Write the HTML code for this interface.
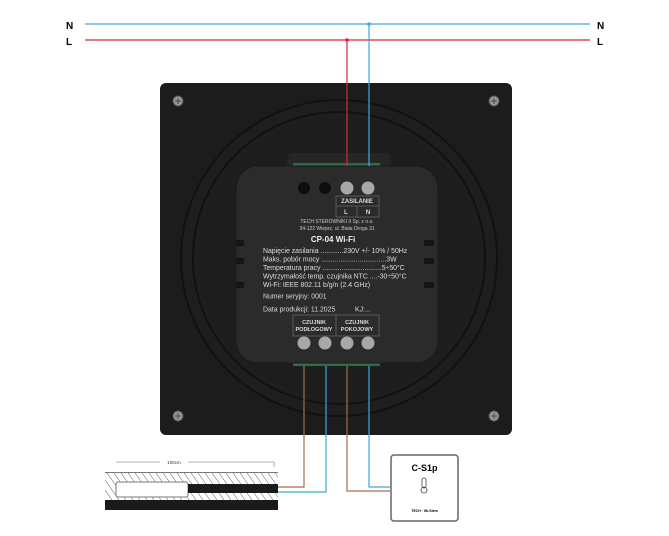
<!DOCTYPE html>
<html><head><meta charset="utf-8"><style>
html,body{margin:0;padding:0;background:#fff;}
svg{display:block;font-family:"Liberation Sans",sans-serif;}
</style></head><body>
<svg width="669" height="536" viewBox="0 0 669 536">
<defs>
<pattern id="h" width="7" height="10" patternUnits="userSpaceOnUse"><line x1="0" y1="0" x2="7" y2="10" stroke="#777" stroke-width="0.6"/></pattern>
</defs>
<line x1="85" y1="24" x2="590" y2="24" stroke="#3aa8e0" stroke-width="1.2"/>
<line x1="85" y1="40" x2="590" y2="40" stroke="#d8283a" stroke-width="1.2"/>
<text x="66" y="29" font-size="10" font-weight="bold">N</text>
<text x="66" y="45" font-size="10" font-weight="bold">L</text>
<text x="597" y="29" font-size="10" font-weight="bold">N</text>
<text x="597" y="45" font-size="10" font-weight="bold">L</text>
<circle cx="347" cy="40" r="1.8" fill="#d8283a"/>
<circle cx="369" cy="24" r="1.8" fill="#3aa8e0"/>
<rect x="160" y="83" width="352" height="352" rx="6" fill="#1c1c1c"/>
<circle cx="339" cy="258" r="158" fill="#1e1e1e" stroke="#111" stroke-width="2"/>
<circle cx="339" cy="258" r="146" fill="none" stroke="#111" stroke-width="2"/>
<circle cx="339" cy="258" r="140" fill="#1d1d1d"/>
<g fill="#999" stroke="#555" stroke-width="1">
<circle cx="178" cy="101" r="5"/><circle cx="494" cy="101" r="5"/>
<circle cx="178" cy="416" r="5"/><circle cx="494" cy="416" r="5"/>
</g>
<g stroke="#444" stroke-width="1"><line x1="175" y1="101" x2="181" y2="101"/><line x1="178" y1="98" x2="178" y2="104"/><line x1="491" y1="101" x2="497" y2="101"/><line x1="494" y1="98" x2="494" y2="104"/><line x1="175" y1="416" x2="181" y2="416"/><line x1="178" y1="413" x2="178" y2="419"/><line x1="491" y1="416" x2="497" y2="416"/><line x1="494" y1="413" x2="494" y2="419"/></g>
<rect x="287" y="153" width="104" height="20" rx="6" fill="#262626"/>
<rect x="293" y="163" width="87" height="3" fill="#2f6b44"/>
<rect x="293" y="363" width="87" height="3" fill="#2f6b44"/>
<rect x="236" y="166" width="202" height="197" rx="22" fill="#2b2b2b" stroke="#1a1a1a"/>
<g fill="#151515"><rect x="236" y="240" width="8" height="6"/><rect x="236" y="258" width="8" height="6"/><rect x="236" y="282" width="8" height="6"/><rect x="424" y="240" width="10" height="6"/><rect x="424" y="258" width="10" height="6"/><rect x="424" y="282" width="10" height="6"/></g>
<line x1="347" y1="40" x2="347" y2="166" stroke="#d8283a" stroke-width="1.2"/>
<line x1="369" y1="24" x2="369" y2="166" stroke="#3aa8e0" stroke-width="1.2"/>
<circle cx="304" cy="188" r="6" fill="#0d0d0d"/><circle cx="325" cy="188" r="6" fill="#0d0d0d"/>
<circle cx="347" cy="188" r="6.5" fill="#a8a8a8"/><circle cx="368" cy="188" r="6.5" fill="#a8a8a8"/>
<rect x="336" y="196" width="43" height="21" fill="none" stroke="#666" stroke-width="0.8"/>
<line x1="336" y1="206" x2="379" y2="206" stroke="#666" stroke-width="0.8"/>
<line x1="357" y1="206" x2="357" y2="217" stroke="#666" stroke-width="0.8"/>
<g fill="#ddd" font-size="6" font-weight="bold" text-anchor="middle"><text x="357" y="203">ZASILANIE</text><text x="346" y="214">L</text><text x="368" y="214">N</text></g>
<g fill="#ccc" font-size="5" text-anchor="middle"><text x="337" y="223">TECH STEROWNIKI II Sp. z o.o.</text><text x="337" y="230">34-122 Wieprz, ul. Biała Droga 31</text></g>
<text x="333" y="242" fill="#eee" font-size="8" font-weight="bold" text-anchor="middle">CP-04 Wi-Fi</text>
<g fill="#ddd" font-size="6.9">
<text x="263" y="253">Napięcie zasilania ............230V +/- 10% / 50Hz</text>
<text x="263" y="261.5">Maks. pobór mocy ..................................3W</text>
<text x="263" y="270">Temperatura pracy ...............................5÷50°C</text>
<text x="263" y="278.5">Wytrzymałość temp. czujnika NTC ....-30÷50°C</text>
<text x="263" y="287">Wi-Fi: IEEE 802.11 b/g/n (2.4 GHz)</text>
<text x="263" y="298.5">Numer seryjny: 0001</text>
<text x="263" y="311.5">Data produkcji: 11.2025</text>
<text x="355" y="311.5">KJ:...</text>
</g>
<rect x="293" y="315" width="86" height="21" fill="none" stroke="#666" stroke-width="0.8"/>
<line x1="336" y1="315" x2="336" y2="336" stroke="#666" stroke-width="0.8"/>
<g fill="#ddd" font-size="5.5" font-weight="bold" text-anchor="middle"><text x="314" y="324">CZUJNIK</text><text x="314" y="331">PODŁOGOWY</text><text x="357" y="324">CZUJNIK</text><text x="357" y="331">POKOJOWY</text></g>
<g fill="#a8a8a8"><circle cx="304" cy="343" r="6.5"/><circle cx="325" cy="343" r="6.5"/><circle cx="347" cy="343" r="6.5"/><circle cx="368" cy="343" r="6.5"/></g>
<g fill="none" stroke-width="1.2">
<polyline points="304,366 304,487 278,487" stroke="#a0704a"/>
<polyline points="326,366 326,492 278,492" stroke="#3aa8e0"/>
<polyline points="347,366 347,491 390,491" stroke="#a0704a"/>
<polyline points="369,366 369,487 390,487" stroke="#3aa8e0"/>
</g>
<line x1="116" y1="462" x2="274" y2="462" stroke="#999" stroke-width="0.8"/>
<line x1="274" y1="462" x2="274" y2="467" stroke="#999" stroke-width="0.8"/>
<rect x="160" y="459" width="28" height="6" fill="#fff"/>
<text x="174" y="464" font-size="4.5" text-anchor="middle" fill="#333">100cm</text>
<rect x="105" y="473" width="173" height="27" fill="url(#h)"/>
<line x1="105" y1="472.5" x2="278" y2="472.5" stroke="#777"/>
<rect x="116" y="482" width="72" height="15" rx="2" fill="#fff" stroke="#777"/>
<rect x="188" y="484" width="90" height="9" fill="#1a1a1a"/>
<rect x="105" y="500" width="173" height="10" fill="#1a1a1a"/>
<rect x="391" y="455" width="67" height="66" rx="3" fill="#fff" stroke="#666" stroke-width="1.5"/>
<text x="424.5" y="471" font-size="9" font-weight="bold" text-anchor="middle">C-S1p</text>
<rect x="422" y="478" width="4" height="10" rx="2" fill="none" stroke="#444" stroke-width="0.8"/>
<circle cx="424" cy="490" r="3" fill="none" stroke="#444" stroke-width="0.8"/>
<text x="424.5" y="512" font-size="3.5" font-weight="bold" text-anchor="middle">TECH · Wi-Stem</text>
</svg>
</body></html>
